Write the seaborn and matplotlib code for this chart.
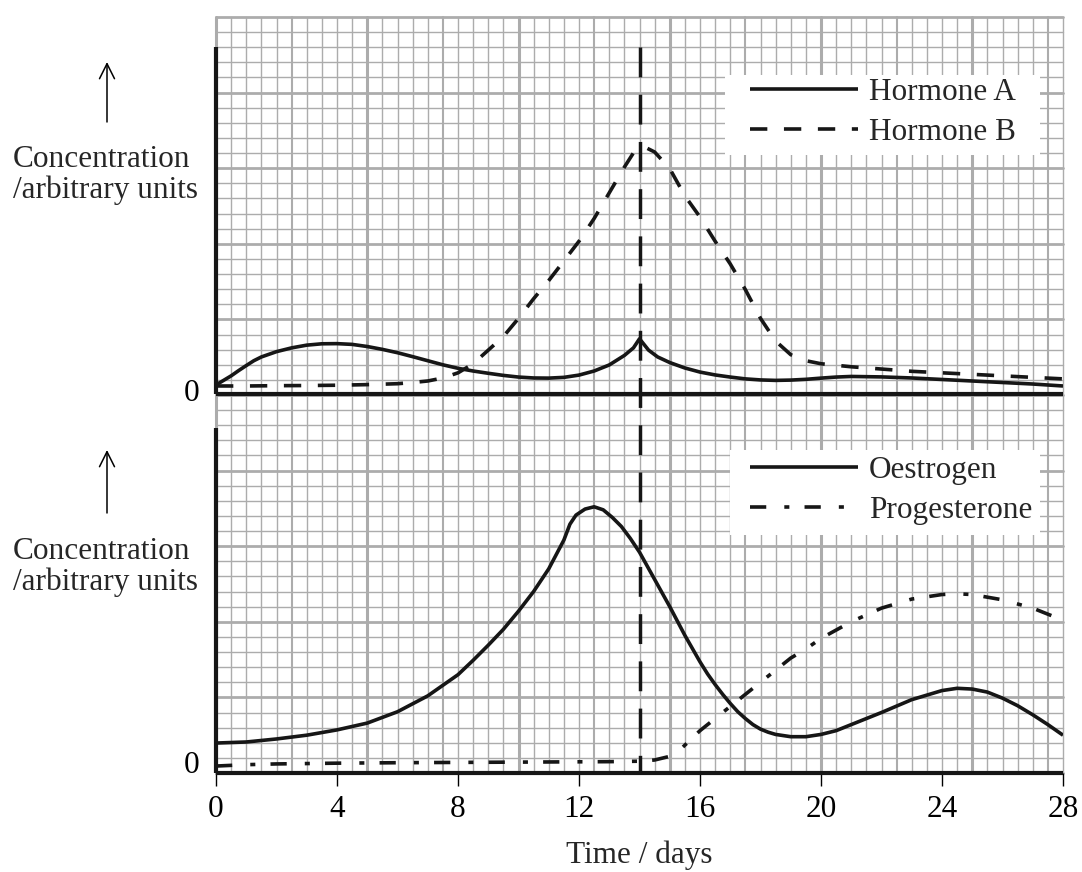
import numpy as np
import pandas as pd
import matplotlib
matplotlib.use("Agg")
import matplotlib.pyplot as plt
import matplotlib.transforms as mtransforms
from matplotlib.lines import Line2D
from matplotlib.patches import Rectangle, FancyArrowPatch
import seaborn as sns

# ---------------- data ----------------
days_ha = [0, 0.25, 0.5, 0.75, 1, 1.25, 1.5, 2, 2.5, 3, 3.5, 4, 4.5, 5, 5.5, 6, 6.5, 7, 7.5,
           8, 8.5, 9, 9.5, 10, 10.5, 11, 11.5, 12, 12.5, 13, 13.5, 13.8, 14, 14.3, 14.6, 15,
           15.5, 16, 16.5, 17, 17.5, 18, 18.5, 19, 19.5, 20, 20.5, 21, 22, 23, 24, 25, 26,
           27, 28]
hormone_a = [0.6, 0.9, 1.2, 1.55, 1.88, 2.2, 2.45, 2.8, 3.05, 3.23, 3.32, 3.33, 3.28, 3.14,
             2.95, 2.73, 2.47, 2.2, 1.93, 1.7, 1.52, 1.37, 1.23, 1.12, 1.06, 1.05, 1.1,
             1.25, 1.52, 1.92, 2.55, 3.05, 3.65, 2.9, 2.45, 2.08, 1.72, 1.45, 1.26, 1.12,
             1.0, 0.93, 0.9, 0.92, 0.97, 1.05, 1.12, 1.16, 1.13, 1.06, 0.96, 0.86, 0.76,
             0.66, 0.53]

days_hb = [0, 1, 2, 3, 4, 5, 6, 6.5, 7, 7.5, 8, 8.5, 9, 9.5, 10, 10.5, 11, 11.5, 12, 12.5,
           13, 13.5, 13.85, 14.2, 14.5, 15, 15.5, 16, 16.5, 17, 17.5, 18, 18.5, 19, 19.5,
           20, 21, 22, 23, 24, 25, 26, 27, 28]
hormone_b = [0.53, 0.53, 0.55, 0.56, 0.58, 0.62, 0.68, 0.76, 0.86, 1.06, 1.4, 2.0, 2.9, 3.8,
             5.0, 6.3, 7.5, 8.8, 10.1, 11.6, 13.3, 15.0, 16.1, 16.3, 16.0, 14.9, 13.1, 11.7,
             10.1, 8.6, 6.9, 5.0, 3.5, 2.6, 2.2, 2.0, 1.8, 1.65, 1.5, 1.4, 1.3, 1.2, 1.1, 1.0]

days_oe = [0, 1, 2, 3, 4, 5, 6, 7, 8, 8.5, 9, 9.5, 10, 10.5, 11, 11.5, 11.7, 11.9, 12.2,
           12.5, 12.8, 13.1, 13.4, 13.7, 14, 14.5, 15, 15.5, 16, 16.25, 16.5, 16.75, 17,
           17.25, 17.5, 17.75, 18, 18.25, 18.5, 19, 19.5, 20, 20.5, 21, 22, 23, 24, 24.5,
           25, 25.5, 26, 26.5, 27, 27.5, 28]
oestrogen = [1.98, 2.05, 2.25, 2.5, 2.85, 3.3, 4.05, 5.1, 6.5, 7.45, 8.45, 9.5, 10.7, 12.0,
             13.5, 15.4, 16.45, 17.05, 17.45, 17.6, 17.4, 16.9, 16.3, 15.5, 14.6, 12.8,
             11.0, 9.1, 7.35, 6.55, 5.85, 5.2, 4.6, 4.05, 3.6, 3.2, 2.9, 2.7, 2.55, 2.4,
             2.4, 2.55, 2.8, 3.2, 4.0, 4.85, 5.45, 5.6, 5.55, 5.35, 4.95, 4.45, 3.85, 3.2,
             2.5]

days_pr = [0, 1, 2, 4, 6, 8, 10, 12, 13, 14, 14.5, 15, 15.4, 16, 16.5, 17, 17.5, 18, 18.5,
           19, 19.5, 20, 21, 22, 23, 24, 24.5, 25, 26, 27, 28]
progesterone = [0.46, 0.55, 0.6, 0.65, 0.68, 0.7, 0.72, 0.74, 0.75, 0.78, 0.86, 1.1, 1.65,
                2.8, 3.6, 4.4, 5.2, 6.0, 6.8, 7.6, 8.2, 8.9, 10.0, 10.9, 11.5, 11.8, 11.85,
                11.8, 11.45, 10.9, 10.1]

x_ticks = [0, 4, 8, 12, 16, 20, 24, 28]
ovulation_day = 14
legend_top = ["Hormone A", "Hormone B"]
legend_bottom = ["Oestrogen", "Progesterone"]
ylabel_text = "Concentration\n/arbitrary units"
xlabel_text = "Time / days"

# ---------------- style ----------------
sns.set_theme(style="white")
plt.rcParams["font.family"] = ["Liberation Serif", "DejaVu Serif"]
FS = 22.5
INK = "#161616"
GRID = "#acacac"

W, H = 1082, 872
CELL = 15.125  # pixels per grid cell
fig = plt.figure(figsize=(W / 100, H / 100), dpi=100)
fig.patch.set_facecolor("white")


def fx(px):
    return px / W


def fy(py):
    return 1 - py / H


# ---------------- background graph paper ----------------
gx0, gx1, gy0, gy1 = 216, 1063, 17, 773
gax = fig.add_axes([fx(gx0), fy(gy1), (gx1 - gx0) / W, (gy1 - gy0) / H], zorder=0)
ncol, nrow = 56, 50
gax.set_xlim(0, ncol)
gax.set_ylim(0, nrow)
gax.axis("off")
for i in range(ncol + 1):
    lw = 2.2 if i % 10 == 0 else (1.5 if i % 5 == 0 else 1.0)
    gax.axvline(i, color=GRID, lw=lw, zorder=1, clip_on=False)
for j in range(nrow + 1):
    lw = 2.0 if j % 5 == 0 else 1.0
    gax.axhline(j, color=GRID, lw=lw, zorder=1, clip_on=False)


def cell_rect(px0, py0, px1, py1):
    return Rectangle(((px0 - gx0) / CELL, (gy1 - py1) / CELL),
                     (px1 - px0) / CELL, (py1 - py0) / CELL,
                     facecolor="white", edgecolor="none", zorder=2)


gax.add_patch(cell_rect(725, 75, 1040, 155))
gax.add_patch(cell_rect(730, 450, 1040, 535))

# ---------------- data axes ----------------
ax1 = fig.add_axes([fx(216), fy(394), 847 / W, (394 - 47) / H], zorder=2)
ax2 = fig.add_axes([fx(216), fy(773), 847 / W, (773 - 428) / H], zorder=3)
ax1.set_ylim(0, (394 - 47) / CELL)
ax2.set_ylim(0, (773 - 428) / CELL)
for ax in (ax1, ax2):
    ax.patch.set_alpha(0)
    ax.set_xlim(0, 28)
    ax.spines["top"].set_visible(False)
    ax.spines["right"].set_visible(False)
    for s in ("left", "bottom"):
        ax.spines[s].set_linewidth(3.0)
        ax.spines[s].set_color(INK)
        ax.spines[s].set_capstyle("butt")
    ax.set_yticks([0])
    ax.set_yticklabels(["0"], fontsize=FS)
    ax.tick_params(axis="y", length=0, pad=12, colors="black")
    ax.grid(False)

ax1.set_xticks([])

LW = 2.6
df_ha = pd.DataFrame({"day": days_ha, "conc": hormone_a})
df_hb = pd.DataFrame({"day": days_hb, "conc": hormone_b})
df_oe = pd.DataFrame({"day": days_oe, "conc": oestrogen})
df_pr = pd.DataFrame({"day": days_pr, "conc": progesterone})

dash_b = (0, (4.8, 4.6))
dash_dot = (0, (4.5, 5.0, 1.4, 4.2))

sns.lineplot(data=df_ha, x="day", y="conc", ax=ax1, color=INK, lw=LW,
             estimator=None, sort=False, legend=False, solid_capstyle="butt")
sns.lineplot(data=df_hb, x="day", y="conc", ax=ax1, color=INK, lw=LW,
             estimator=None, sort=False, legend=False, linestyle=dash_b,
             dash_capstyle="butt")
sns.lineplot(data=df_oe, x="day", y="conc", ax=ax2, color=INK, lw=LW,
             estimator=None, sort=False, legend=False, solid_capstyle="butt")
sns.lineplot(data=df_pr, x="day", y="conc", ax=ax2, color=INK, lw=LW,
             estimator=None, sort=False, legend=False, linestyle=dash_dot,
             dash_capstyle="butt")

# day-14 reference line through both panels
ytop = (773 - 47) / CELL
ax2.plot([ovulation_day, ovulation_day], [ytop, 0], color=INK, lw=2.5,
         linestyle=(0, (8.6, 5.0)), dash_capstyle="butt", clip_on=False, zorder=5)

# x ticks / labels
ax2.set_xticks(x_ticks)
ax2.set_xticklabels([str(t) for t in x_ticks], fontsize=FS)
ax2.tick_params(axis="x", direction="out", length=9, width=1.0, pad=7,
                colors="black", bottom=True)
ax2.set_xlabel(xlabel_text, fontsize=FS, labelpad=12)
ax1.set_xlabel("")
ax1.set_ylabel("")
ax2.set_ylabel("")

# shift "0" labels up slightly like the reference
for ax, dy in ((ax1, 4), (ax2, 11)):
    off = mtransforms.ScaledTranslation(0, dy / 100, fig.dpi_scale_trans)
    for lab in ax.get_yticklabels():
        lab.set_transform(lab.get_transform() + off)

# legends
h_top = [Line2D([], [], color=INK, lw=LW, solid_capstyle="butt"),
         Line2D([], [], color=INK, lw=LW, linestyle=dash_b, dash_capstyle="butt")]
h_bot = [Line2D([], [], color=INK, lw=LW, solid_capstyle="butt"),
         Line2D([], [], color=INK, lw=LW, linestyle=dash_dot, dash_capstyle="butt")]
common = dict(loc="upper left", frameon=False, fontsize=FS, handlelength=3.45,
              handletextpad=0.36, labelspacing=0.35, borderpad=0, borderaxespad=0,
              bbox_transform=fig.transFigure)
ax1.legend(h_top, legend_top, bbox_to_anchor=(fx(750), fy(78)), **common)
ax2.legend(h_bot, legend_bottom, bbox_to_anchor=(fx(750), fy(456)), **common)

# y-axis captions with arrows
for ytxt, a0, a1 in ((175, 122, 62), (567, 513, 450)):
    fig.text(fx(13), fy(ytxt), ylabel_text, fontsize=FS, ha="left", va="center",
             linespacing=1.1)
    fig.add_artist(FancyArrowPatch(
        (fx(107), fy(a0)), (fx(107), fy(a1)), transform=fig.transFigure,
        arrowstyle="->,head_length=0.9,head_width=0.45", lw=1.1, color="black",
        mutation_scale=12, shrinkA=0, shrinkB=0))

fig.savefig("out.png", dpi=100, facecolor="white")
